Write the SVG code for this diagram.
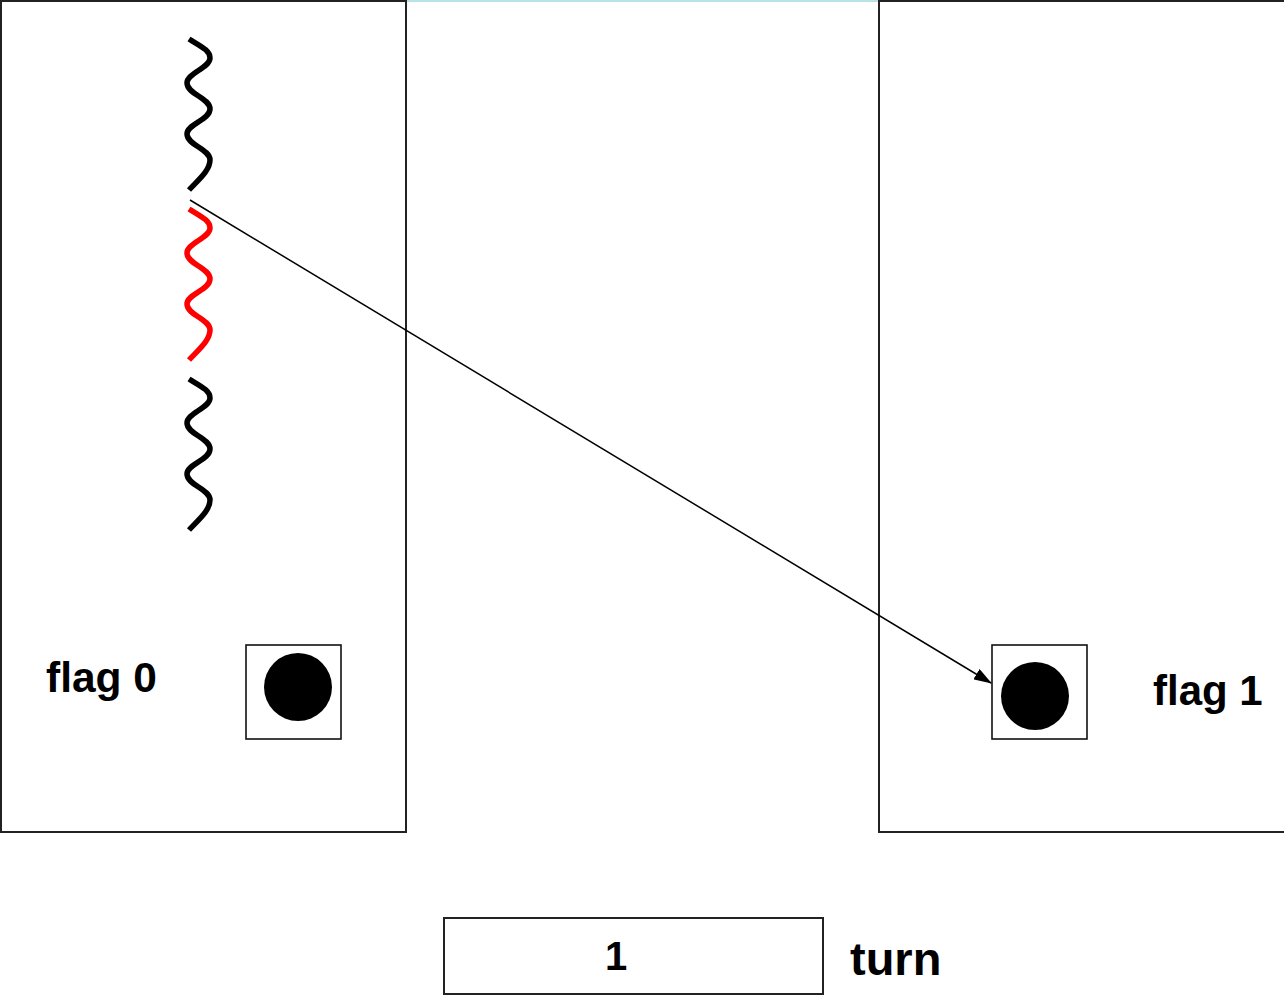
<svg xmlns="http://www.w3.org/2000/svg" width="1284" height="996" viewBox="0 0 1284 996">
<style>
.box{fill:#fff;stroke:#222;stroke-width:2}
.sbox{fill:#fff;stroke:#111;stroke-width:1.6}
.lbl{font-family:"Liberation Sans",Arial,sans-serif;font-weight:bold;fill:#000}
.wave{fill:none;stroke-width:5.5;stroke-linecap:butt}
</style>
<defs>
<marker id="ah" markerWidth="18" markerHeight="12" refX="17" refY="6" orient="auto" markerUnits="userSpaceOnUse">
<path d="M0,0 L18,6 L0,12 Z" fill="#000"/>
</marker>
<path id="wv" d="M189,209 C200,216 210,220 210,228 C210,238 187,243 187,253 C187,264 210,268 210,279 C210,290 187,294 187,304 C187,315 210,319 210,330 C210,341 197,351 189,360"/>
</defs>
<line x1="407" y1="1" x2="878" y2="1" stroke="#b8e2e6" stroke-width="2"/>
<g id="process0">
<rect class="box" x="1" y="1" width="405" height="831"/>
<text class="lbl" x="46" y="692" font-size="42.5">flag 0</text>
</g>
<g id="process1">
<rect class="box" x="879" y="1" width="410" height="831"/>
<text class="lbl" x="1153" y="705" font-size="42">flag 1</text>
</g>
<g id="flag0">
<rect class="sbox" x="246" y="645" width="95" height="94"/>
<circle cx="298" cy="687" r="34" fill="#000"/>
</g>
<g id="flag1">
<rect class="sbox" x="992" y="645" width="95" height="94"/>
<circle cx="1035" cy="696" r="34" fill="#000"/>
</g>
<g id="wave1"><use href="#wv" class="wave" stroke="#000" transform="translate(0,-170)"/></g>
<g id="wave2"><use href="#wv" class="wave" stroke="#f00"/></g>
<g id="wave3"><use href="#wv" class="wave" stroke="#000" transform="translate(0,170)"/></g>
<g id="turn">
<rect class="box" x="444" y="918" width="379" height="76"/>
<text class="lbl" x="616" y="970" font-size="40" text-anchor="middle">1</text>
<text class="lbl" x="850" y="975" font-size="47">turn</text>
</g>
<g id="connectors">
<line x1="190" y1="200" x2="991" y2="683" stroke="#000" stroke-width="1.5" marker-end="url(#ah)"/>
</g>
</svg>
